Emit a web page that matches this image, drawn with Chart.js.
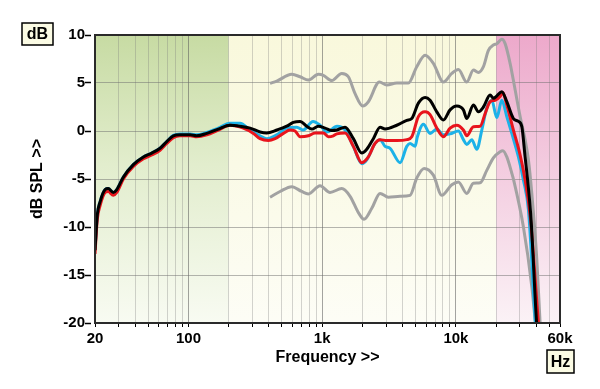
<!DOCTYPE html>
<html>
<head>
<meta charset="utf-8">
<title>Frequency response</title>
<script src="https://cdn.jsdelivr.net/npm/chart.js@4.4.1/dist/chart.umd.min.js"></script>
<style>
  html, body { margin: 0; padding: 0; background: #fff; }
  #wrap { width: 600px; height: 389px; }
</style>
</head>
<body>
<div id="wrap"><canvas id="responseChart" width="600" height="389"></canvas></div>
<script>
// x axis: every gridline (Hz) and the ones that get a label
let xGrid = [20, 30, 40, 50, 60, 70, 80, 90, 100, 200, 300, 400, 500, 600, 700, 800, 900,
  1000, 2000, 3000, 4000, 5000, 6000, 7000, 8000, 9000, 10000, 20000, 30000, 40000, 50000, 60000];
let xLabelHz = [20, 100, 1000, 10000, 60000];
let xLabelText = ['20', '100', '1k', '10k', '60k'];

// shaded frequency bands (Hz)
let zoneBass = [20, 200];
let zoneMid = [200, 20000];
let zoneHigh = [20000, 60000];

// black curve
let blackHz = [20, 20.8, 21.8, 23.8, 25.1, 27.4, 29.1, 32.6, 38.7, 46, 53.1, 61.3, 68.8, 77, 86.4, 103, 115, 137, 167, 204,
  243, 289, 343, 385, 457, 543, 608, 683, 766, 835, 936, 1050, 1179, 1285, 1482, 1710, 1976, 2154, 2413, 2708,
  2952, 3610, 4290, 4674, 5238, 5880, 6405, 7190, 8056, 9040, 10150, 11370, 12050, 13510, 14720, 16050, 18010, 19060, 20210, 22030,
  24010, 26900, 29330, 31090, 32900, 34300, 36500, 40100, 41300];
let blackDb = [-12.4, -8.75, -7.4, -6.1, -6.0, -6.4, -6.1, -4.8, -3.5, -2.7, -2.3, -1.8, -1.1, -0.5, -0.4, -0.4, -0.5, -0.25, 0.2, 0.6,
  0.5, 0.3, -0.1, -0.2, 0.1, 0.5, 0.9, 1.0, 0.5, 0.2, 0.5, 0.3, 0.05, 0.1, 0.4, -0.8, -2.3, -1.9, -0.8, 0.4,
  0.2, 0.6, 1.1, 1.3, 2.9, 3.5, 3.2, 2.0, 1.15, 2.2, 2.6, 2.2, 1.3, 2.7, 2.0, 2.5, 3.75, 3.4, 3.65, 4.1,
  3.05, 1.3, 1.0, 0.45, -2.7, -5.0, -9.3, -20, -22];

// red curve
let redHz = [20, 20.8, 21.8, 23.8, 25.1, 27.4, 29.1, 32.6, 38.7, 46, 53.1, 61.3, 68.8, 77, 86.4, 103, 115, 137, 167, 204,
  257, 306, 343, 396, 444, 512, 575, 627, 683, 788, 884, 1020, 1112, 1212, 1285, 1482, 1710, 1976, 2214, 2484,
  2708, 3040, 3610, 4290, 4674, 5238, 5880, 6405, 7190, 8056, 9040, 10150, 11370, 12050, 13510, 15160, 16520, 18010, 19630, 21390,
  22420, 24010, 26900, 30200, 32900, 36000, 41400, 42700];
let redDb = [-12.8, -9.2, -7.8, -6.4, -6.3, -6.7, -6.4, -5.0, -3.7, -2.9, -2.5, -2.0, -1.3, -0.7, -0.5, -0.5, -0.6, -0.4, 0.1, 0.6,
  0.3, -0.25, -0.8, -1.0, -0.8, -0.25, 0.1, 0.0, -0.6, -0.5, -0.2, -0.2, -0.6, -0.5, -0.3, -0.2, -1.6, -3.3, -2.7, -1.3,
  -0.9, -1.0, -1.0, -0.9, -0.6, 1.5, 2.0, 1.7, 0.3, -0.6, 0.3, 0.6, 0.1, -0.5, 0.45, 0.5, 1.8, 3.05, 3.2, 3.6,
  4.0, 2.7, 0.1, -2.5, -5.1, -9.0, -20, -22];

// blue curve
let blueHz = [20, 20.8, 21.8, 23.8, 25.1, 27.4, 29.1, 32.6, 38.7, 46, 53.1, 61.3, 68.8, 77, 86.4, 103, 115, 137, 167, 204,
  243, 289, 343, 385, 457, 543, 645, 719, 854, 964, 1087, 1291, 1482, 1710, 1976, 2154, 2484, 2708, 2952, 3217,
  3822, 4290, 4539, 4948, 5148, 5710, 6405, 7190, 8056, 9040, 10430, 11370, 12050, 13140, 14320, 15610, 17010, 18540, 20210, 22030,
  24010, 26170, 29330, 31960, 34830, 39300, 40500];
let blueDb = [-12.4, -8.75, -7.4, -6.1, -6.0, -6.4, -6.1, -4.8, -3.5, -2.7, -2.3, -1.8, -1.1, -0.45, -0.3, -0.3, -0.4, -0.15, 0.3, 0.8,
  0.8, 0.1, -0.5, -0.8, -0.4, 0.3, 0.4, 0.1, 1.0, 0.6, -0.1, 0.5, 0.1, -1.6, -3.4, -3.0, -1.3, -0.9, -1.6, -1.8,
  -3.3, -1.6, -1.3, -1.6, -0.6, 0.7, -0.25, 0.2, -0.4, -0.3, 0.0, -0.9, -1.4, -0.9, -1.9, 0.1, 2.4, 3.2, 1.4, 3.2,
  1.5, -0.25, -2.7, -5.1, -8.2, -20, -22];

// grey tolerance curves
let grayHiHz = [407, 457, 592, 683, 788, 936, 1020, 1179, 1400, 1569, 1761, 2010, 2214, 2676, 3040, 3610, 4408, 5095, 5880, 6780,
  8056, 9310, 10430, 12050, 13510, 14720, 16050, 17490, 19060, 20210, 22030, 23320, 25410, 27700, 30200, 32900, 34830, 36920, 40250, 42600, 43600];
let grayHiDb = [4.97, 5.2, 5.9, 5.65, 5.3, 5.9, 5.8, 5.25, 6.0, 5.65, 3.9, 2.6, 3.05, 5.1, 4.8, 5.0, 5.0, 6.7, 7.9, 7.05,
  5.1, 6.0, 6.4, 5.1, 6.35, 6.1, 6.7, 8.4, 8.95, 9.1, 9.55, 9.1, 7.05, 4.3, 1.5, -0.9, -3.0, -6.5, -13.4, -20, -22];
let grayLoHz = [407, 484, 592, 703, 788, 964, 1145, 1400, 1616, 1864, 2056, 2348, 2708, 3125, 3822, 4539, 5095, 5778, 6780, 7837,
  9310, 10430, 12050, 13510, 15160, 17010, 19060, 21390, 22420, 24010, 26170, 27000, 31960, 36920, 39080, 40500];
let grayLoDb = [-6.9, -6.3, -5.8, -6.3, -6.55, -5.7, -6.4, -6.0, -6.8, -8.5, -9.2, -8.05, -6.5, -6.9, -6.8, -6.7, -4.9, -3.9, -4.6, -6.7,
  -5.6, -5.3, -6.5, -5.45, -5.4, -4.1, -2.8, -2.15, -2.05, -2.7, -4.4, -5.1, -10, -16.2, -19.7, -22];

const FONT = "'Liberation Sans', Arial, sans-serif";


// turns two arrays into {x, y} points for chartjs
function toPoints(hz, db) {
  return hz.map((f, i) => ({ x: f, y: db[i] }));
}


function curve(hz, db, color) {
  return {
    data: toPoints(hz, db),
    borderColor: color,
    borderWidth: 3,
    pointRadius: 0,
    cubicInterpolationMode: 'monotone',
    clip: 0
  };
}


// coloured band behind the plot, fading out towards the bottom
function drawZone(c, area, xScale, zone, colors) {
  let x1 = xScale.getPixelForValue(zone[0]);
  let x2 = xScale.getPixelForValue(zone[1]);
  let g = c.createLinearGradient(0, area.top, 0, area.bottom);
  g.addColorStop(0, colors[0]);
  g.addColorStop(0.45, colors[1]);
  g.addColorStop(1, colors[2]);
  c.fillStyle = g;
  c.fillRect(x1, area.top, x2 - x1, area.bottom - area.top);
}


// little framed unit label ("dB", "Hz")
function drawUnitBox(c, text, x, y, w, h) {
  c.fillStyle = '#fbfbe4';
  c.fillRect(x, y, w, h);
  c.strokeStyle = '#000';
  c.lineWidth = 1.5;
  c.strokeRect(x, y, w, h);
  c.fillStyle = '#000';
  c.font = 'bold 16px ' + FONT;
  c.textAlign = 'center';
  c.textBaseline = 'middle';
  c.fillText(text, x + w / 2, y + h / 2 + 1);
}


const backdrop = {
  id: 'backdrop',
  beforeDraw(chart) {
    let c = chart.ctx;
    let area = chart.chartArea;
    let xs = chart.scales.x;
    c.save();
    drawZone(c, area, xs, zoneBass, ['#c7dba3', '#e2edcd', '#f8fbf2']);
    drawZone(c, area, xs, zoneMid, ['#f9f8dc', '#fafae6', '#fdfdf6']);
    drawZone(c, area, xs, zoneHigh, ['#eda9cb', '#f3cbdf', '#fbf2f6']);
    c.restore();
  },
  afterDraw(chart) {
    let c = chart.ctx;
    let area = chart.chartArea;
    c.save();
    c.strokeStyle = '#2a2a2a';
    c.lineWidth = 2;
    c.strokeRect(area.left, area.top, area.right - area.left, area.bottom - area.top);
    drawUnitBox(c, 'dB', 22, 23, 31, 22);
    drawUnitBox(c, 'Hz', 547, 350, 27, 23);
    c.restore();
  }
};


new Chart(document.getElementById('responseChart'), {
  type: 'line',
  data: {
    datasets: [
      curve(blackHz, blackDb, '#000000'),
      curve(redHz, redDb, '#e8141c'),
      curve(blueHz, blueDb, '#1cb2e8'),
      curve(grayHiHz, grayHiDb, '#a2a2a2'),
      curve(grayLoHz, grayLoDb, '#a2a2a2')
    ]
  },
  options: {
    responsive: false,
    animation: false,
    devicePixelRatio: 1,
    layout: { padding: { top: 35, right: 40, left: 0, bottom: 0 } },
    plugins: {
      legend: { display: false },
      tooltip: { enabled: false }
    },
    scales: {
      x: {
        type: 'logarithmic',
        min: 20,
        max: 60000,
        afterBuildTicks: (axis) => { axis.ticks = xGrid.map(v => ({ value: v })); },
        afterFit: (axis) => { axis.height = 66; },
        ticks: {
          autoSkip: false,
          maxRotation: 0,
          padding: 3,
          color: '#000',
          font: { family: FONT, size: 15, weight: 'bold' },
          callback: (value) => {
            let i = xLabelHz.indexOf(value);
            return i >= 0 ? xLabelText[i] : '';
          }
        },
        grid: {
          color: (ctx) => ([100, 1000, 10000].includes(ctx.tick.value) ? 'rgba(90,90,90,0.55)' : 'rgba(120,120,120,0.32)'),
          tickColor: '#000',
          tickLength: 4
        },
        border: { color: '#000', width: 2 },
        title: {
          display: true,
          text: 'Frequency >>',
          color: '#000',
          font: { family: FONT, size: 16, weight: 'bold' },
          padding: { top: 0, bottom: 22 }
        }
      },
      y: {
        min: -20,
        max: 10,
        afterFit: (axis) => { axis.width = 95; },
        ticks: {
          stepSize: 5,
          padding: 0,
          color: '#000',
          font: { family: FONT, size: 15, weight: 'bold' }
        },
        grid: {
          color: 'rgba(110,110,110,0.5)',
          tickColor: '#000',
          tickLength: 10,
          tickWidth: 1.5,
          tickBorderDash: [6, 10]
        },
        border: { color: '#000', width: 2 },
        title: {
          display: true,
          text: 'dB SPL >>',
          color: '#000',
          font: { family: FONT, size: 16, weight: 'bold' },
          padding: { top: 28, bottom: 0 }
        }
      }
    }
  },
  plugins: [backdrop]
});
</script>
</body>
</html>
